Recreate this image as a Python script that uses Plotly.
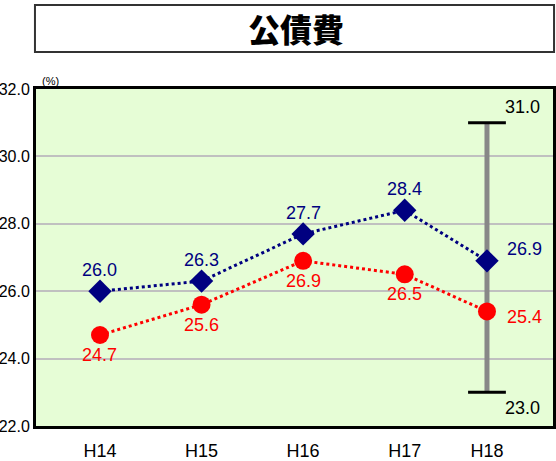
import plotly.graph_objects as go

categories = ["H14", "H15", "H16", "H17", "H18"]
cat_pos = [0, 1, 2, 3, 3.81]
blue_vals = [26.0, 26.3, 27.7, 28.4, 26.9]
red_vals = [24.7, 25.6, 26.9, 26.5, 25.4]
range_low = 23.0
range_high = 31.0
y_ticks = [22, 24, 26, 28, 30, 32]
title_text = "公債費"

FONT = "Liberation Sans, Arial, sans-serif"

fig = go.Figure()

# range bar at H18
fig.add_trace(go.Scatter(x=[cat_pos[-1], cat_pos[-1]], y=[range_low, range_high], mode="lines",
                         line=dict(color="#888888", width=5), hoverinfo="skip", showlegend=False))
fig.add_trace(go.Scatter(x=[cat_pos[-1], cat_pos[-1]], y=[range_low, range_high], mode="markers",
                         marker=dict(symbol="line-ew", size=27, line=dict(color="black", width=3)),
                         hoverinfo="skip", showlegend=False))

fig.add_trace(go.Scatter(x=cat_pos, y=red_vals, mode="lines+markers",
                         line=dict(color="#ff0000", width=3, dash="dot"),
                         marker=dict(symbol="circle", size=18, color="#ff0000"), showlegend=False))
fig.add_trace(go.Scatter(x=cat_pos, y=blue_vals, mode="lines+markers",
                         line=dict(color="#000080", width=3, dash="dot"),
                         marker=dict(symbol="diamond", size=18, color="#000080"), showlegend=False))

annotations = []
for i, (x, v) in enumerate(zip(cat_pos, blue_vals)):
    if i == len(cat_pos) - 1:
        annotations.append(dict(x=x, y=v, text=f"{v:.1f}", showarrow=False, xanchor="left",
                                xshift=18, yshift=12, font=dict(color="#000080", size=18, family=FONT)))
    else:
        annotations.append(dict(x=x, y=v, text=f"{v:.1f}", showarrow=False, yanchor="bottom",
                                yshift=9, font=dict(color="#000080", size=18, family=FONT)))
for i, (x, v) in enumerate(zip(cat_pos, red_vals)):
    if i == len(cat_pos) - 1:
        annotations.append(dict(x=x, y=v, text=f"{v:.1f}", showarrow=False, xanchor="left",
                                xshift=18, yshift=-6, font=dict(color="#ff0000", size=18, family=FONT)))
    else:
        annotations.append(dict(x=x, y=v, text=f"{v:.1f}", showarrow=False, yanchor="top",
                                yshift=-8, font=dict(color="#ff0000", size=18, family=FONT)))
annotations.append(dict(x=cat_pos[-1], y=range_high, text=f"{range_high:.1f}", showarrow=False,
                        xanchor="left", yanchor="bottom", xshift=16, yshift=4,
                        font=dict(color="black", size=18, family=FONT)))
annotations.append(dict(x=cat_pos[-1], y=range_low, text=f"{range_low:.1f}", showarrow=False,
                        xanchor="left", yanchor="top", xshift=16, yshift=-4,
                        font=dict(color="black", size=18, family=FONT)))
annotations.append(dict(xref="paper", yref="paper", x=0.008, y=1.0, text="(%)", showarrow=False,
                        xanchor="left", yanchor="bottom", yshift=0,
                        font=dict(color="black", size=11, family=FONT)))
annotations.append(dict(xref="paper", yref="paper", x=0.503, y=1.181, text=title_text,
                        showarrow=False, xanchor="center", yanchor="middle",
                        font=dict(color="black", size=32, family="Noto Sans CJK JP", weight=900)))

shapes = [dict(type="rect", xref="paper", yref="paper", x0=-0.002, x1=1.002, y0=1.11, y1=1.249,
               line=dict(color="#333333", width=2), fillcolor="white", layer="below")]

fig.update_layout(
    width=556, height=461,
    margin=dict(l=36, r=3, t=89, b=35),
    paper_bgcolor="white",
    plot_bgcolor="#e6fdd6",
    font=dict(family=FONT, size=18, color="black"),
    annotations=annotations,
    shapes=shapes,
    xaxis=dict(range=[-0.63, 4.46], tickvals=cat_pos, ticktext=categories, showgrid=False,
               zeroline=False, showline=True, linecolor="black", linewidth=3, mirror=True,
               ticks="", tickfont=dict(size=18, family=FONT), ticklabelstandoff=6,
               automargin=False),
    yaxis=dict(range=[22, 32], tickvals=y_ticks, ticktext=[f"{t:.1f}" for t in y_ticks],
               showgrid=True, gridcolor="#c0c0c0", gridwidth=2, zeroline=False,
               showline=True, linecolor="black", linewidth=3, mirror=True, ticks="",
               tickfont=dict(size=16, family=FONT), ticklabelstandoff=0, automargin=False),
)

fig.write_html("out.html", post_script="document.body.style.margin='0';",
               config={"displayModeBar": False})
